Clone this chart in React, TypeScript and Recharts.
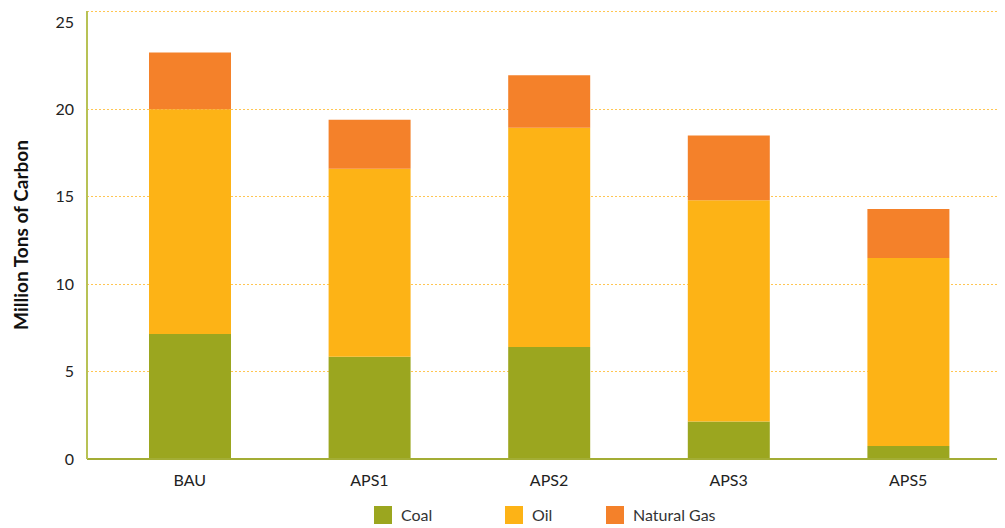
import { BarChart, Bar, XAxis, YAxis, CartesianGrid, Legend, ReferenceLine } from 'recharts';

const categories = ['BAU', 'APS1', 'APS2', 'APS3', 'APS5'];
const coal = [7.15, 5.85, 6.4, 2.15, 0.75];
const oil = [12.85, 10.75, 12.55, 12.65, 10.75];
const naturalGas = [3.25, 2.8, 3.0, 3.7, 2.8];
const yTicks = [0, 5, 10, 15, 20, 25];
const Y_MAX = 25.62;

const COLORS = { coal: '#9ba61f', oil: '#fdb316', gas: '#f4812a' };
const GRID = '#ffb31a';
const FONT = 'Lato, "Open Sans", sans-serif';

const data = categories.map((name, i) => ({
  name,
  coal: coal[i],
  oil: oil[i],
  gas: naturalGas[i],
}));

const legendItems = [
  { label: 'Coal', color: COLORS.coal, width: 131 },
  { label: 'Oil', color: COLORS.oil, width: 101 },
  { label: 'Natural Gas', color: COLORS.gas, width: 120 },
];

function LegendContent() {
  return (
    <div style={{ display: 'flex', paddingLeft: 366, fontFamily: FONT, fontSize: 16, color: '#333' }}>
      {legendItems.map((it) => (
        <div key={it.label} style={{ display: 'flex', alignItems: 'center', width: it.width }}>
          <span style={{ width: 18, height: 18, background: it.color, display: 'inline-block', marginRight: 9 }} />
          <span>{it.label}</span>
        </div>
      ))}
    </div>
  );
}

export default function App() {
  return (
    <div style={{ width: 997, height: 520 }}>
      <BarChart
        width={997}
        height={520}
        data={data}
        margin={{ top: 3, right: 0, left: 0, bottom: 0 }}
        barSize={82}
      >
        <CartesianGrid
          horizontalValues={[5, 10, 15, 20]}
          vertical={false}
          stroke={GRID}
          strokeOpacity={0.75}
          strokeDasharray="2 2"
          shapeRendering="crispEdges"
        />
        <ReferenceLine
          y={Y_MAX}
          stroke={GRID}
          strokeOpacity={0.75}
          strokeDasharray="2 2"
          ifOverflow="visible"
          shapeRendering="crispEdges"
        />
        <XAxis
          dataKey="name"
          padding={{ left: 13, right: 7 }}
          axisLine={{ stroke: '#a3ad35', strokeWidth: 2 }}
          tickLine={false}
          tickSize={6}
          tickMargin={10}
          tick={{ fill: '#222', fontSize: 16, fontFamily: FONT }}
          height={39}
        />
        <YAxis
          domain={[0, Y_MAX]}
          ticks={yTicks}
          width={79}
          axisLine={{ stroke: '#b8c255', strokeWidth: 2 }}
          tickLine={false}
          tickSize={6}
          tickMargin={7}
          tick={{ fill: '#222', fontSize: 16, fontFamily: FONT }}
          label={{
            content: (props: any) => {
              const vb = props.viewBox;
              const cy = vb.y + vb.height / 2;
              return (
                <text
                  x={12}
                  y={cy}
                  transform={`rotate(-90, 12, ${cy})`}
                  textAnchor="middle"
                  dominantBaseline="central"
                  fontFamily={FONT}
                  fontSize={19}
                  fontWeight={700}
                  fill="#111"
                >
                  Million Tons of Carbon
                </text>
              );
            },
          }}
        />
        <Legend
          verticalAlign="bottom"
          height={30}
          content={<LegendContent />}
          wrapperStyle={{ top: 497, bottom: 'auto' }}
        />
        <Bar dataKey="coal" name="Coal" stackId="a" fill={COLORS.coal} isAnimationActive={false} />
        <Bar dataKey="oil" name="Oil" stackId="a" fill={COLORS.oil} isAnimationActive={false} />
        <Bar dataKey="gas" name="Natural Gas" stackId="a" fill={COLORS.gas} isAnimationActive={false} />
      </BarChart>
    </div>
  );
}
